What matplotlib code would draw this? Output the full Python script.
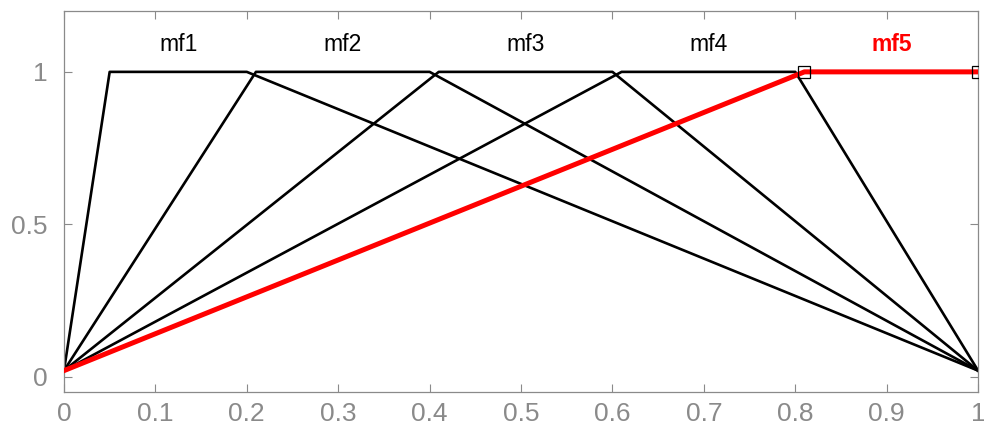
import numpy as np
import matplotlib
matplotlib.use("Agg")
import matplotlib.pyplot as plt

plt.rcParams['font.family'] = ['Liberation Sans', 'DejaVu Sans']

# membership functions (trapezoid corner points)
mf_names = ['mf1', 'mf2', 'mf3', 'mf4', 'mf5']
mf_x = [
    [0, 0.05, 0.2, 1],
    [0, 0.21, 0.4, 1],
    [0, 0.41, 0.6, 1],
    [0, 0.61, 0.8, 1],
    [0, 0.81, 1, 1],
]
mf_y = [
    [0.02, 1, 1, 0.02],
    [0.02, 1, 1, 0.02],
    [0.02, 1, 1, 0.02],
    [0.02, 1, 1, 0.02],
    [0.02, 1, 1, 1],
]
selected = 4

xticks = [0, 0.1, 0.2, 0.3, 0.4, 0.5, 0.6, 0.7, 0.8, 0.9, 1]
xtick_labels = ['0', '0.1', '0.2', '0.3', '0.4', '0.5', '0.6', '0.7', '0.8', '0.9', '1']
yticks = [0, 0.5, 1]
ytick_labels = ['0', '0.5', '1']

grey = '#8a8a8a'

fig = plt.figure(figsize=(9.84, 4.36), dpi=100)
ax = fig.add_axes([0.065, 0.101, 0.929, 0.874])

for i, (xs, ys) in enumerate(zip(mf_x, mf_y)):
  if i == selected:
    continue
  ax.plot(xs, ys, color='black', lw=1.9, zorder=2)

xs, ys = mf_x[selected], mf_y[selected]
ax.plot(xs, ys, color='red', lw=3.6, zorder=3)
ax.plot(xs[1:3], ys[1:3], ls='none', marker='s', ms=8, mfc='none', mec='black', mew=0.9, zorder=4)

for i, (xs, ys) in enumerate(zip(mf_x, mf_y)):
  xc = (xs[1] + xs[2]) / 2
  if i == selected:
    ax.text(xc, 1.09, mf_names[i], ha='center', va='center', fontsize=16.5, color='red', fontweight='bold')
  else:
    ax.text(xc, 1.09, mf_names[i], ha='center', va='center', fontsize=16.5, color='black')

ax.set_xlim(0, 1)
ax.set_ylim(-0.05, 1.2)
ax.set_xticks(xticks)
ax.set_xticklabels(xtick_labels)
ax.set_yticks(yticks)
ax.set_yticklabels(ytick_labels)

ax.tick_params(direction='in', length=6, width=0.8, color=grey, labelcolor=grey,
               labelsize=19, top=True, right=True)
ax.tick_params(axis='x', pad=7)
ax.tick_params(axis='y', pad=12)
for sp in ax.spines.values():
  sp.set_color(grey)
  sp.set_linewidth(0.9)

fig.savefig('out.png', dpi=100)
